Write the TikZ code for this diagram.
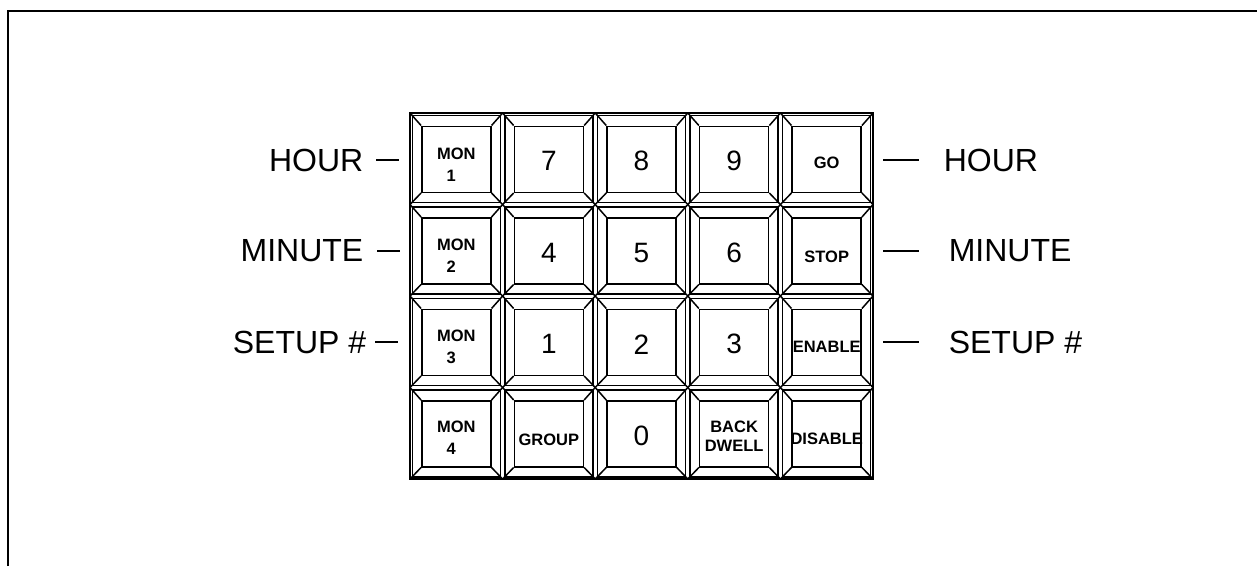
\documentclass[tikz,border=0pt]{standalone}
\usepackage{fontspec}
\setmainfont{Liberation Sans}
\begin{document}
\begin{tikzpicture}[x=1pt,y=-1pt,line width=1.5pt,
  keyface/.style={draw,minimum width=69pt,minimum height=66pt,inner sep=0pt},
  keyshell/.style={draw,minimum width=88pt,minimum height=87pt,inner sep=0pt},
  sm/.style={font=\fontsize{16.5}{18}\selectfont\bfseries,align=center,inner sep=0pt},
  dig/.style={font=\fontsize{28}{30}\selectfont,inner sep=0pt},
  lab/.style={font=\fontsize{32}{34}\selectfont,inner sep=0pt}]
\useasboundingbox (0,0) rectangle (1257,566);
\draw[line width=2.6pt] (8,566) -- (8,11) -- (1257,11);
% keypad outer border
\node[draw,minimum width=463pt,minimum height=366pt,inner sep=0pt] (pad) at (641.5,296) {};
% keys
\foreach \r in {0,...,3} {
  \foreach \c in {0,...,4} {
    \pgfmathsetmacro\xa{410+\c*92.6}
    \pgfmathsetmacro\ya{113+\r*91.5}
    \pgfmathsetmacro\xm{\xa+46.3}
    \pgfmathsetmacro\ym{\ya+45.75}
    \coordinate (nw\r\c) at (\xa,\ya);
    \coordinate (ne\r\c) at ({\xa+92.6},\ya);
    \coordinate (sw\r\c) at (\xa,{\ya+91.5});
    \coordinate (se\r\c) at ({\xa+92.6},{\ya+91.5});
    \node[keyshell] (shell\r\c) at (\xm,\ym) {};
    \node[keyface] (key\r\c) at (\xm,{\ym+0.5}) {};
    \draw (nw\r\c) -- (key\r\c.north west);
    \draw (ne\r\c) -- (key\r\c.north east);
    \draw (sw\r\c) -- (key\r\c.south west);
    \draw (se\r\c) -- (key\r\c.south east);
  }
}
% key legends
\node[sm] (t00) at ([yshift=-5pt]key00) {MON\\[4pt]1\kern10pt};
\node[dig] (t01) at ([yshift=-2pt]key01) {7};
\node[dig] (t02) at ([yshift=-2pt]key02) {8};
\node[dig] (t03) at ([yshift=-2pt]key03) {9};
\node[sm] (t04) at ([yshift=-4pt]key04) {GO};
\node[sm] (t10) at ([yshift=-5pt]key10) {MON\\[4pt]2\kern10pt};
\node[dig] (t11) at ([yshift=-2pt]key11) {4};
\node[dig] (t12) at ([yshift=-2pt]key12) {5};
\node[dig] (t13) at ([yshift=-2pt]key13) {6};
\node[sm] (t14) at ([yshift=-6pt]key14) {STOP};
\node[sm] (t20) at ([yshift=-5pt]key20) {MON\\[4pt]3\kern10pt};
\node[dig] (t21) at ([yshift=-2pt]key21) {1};
\node[dig] (t22) at ([yshift=-2pt]key22) {2};
\node[dig] (t23) at ([yshift=-2pt]key23) {3};
\node[sm] (t24) at ([yshift=-5pt]key24) {ENABLE};
\node[sm] (t30) at ([yshift=-4pt]key30) {MON\\[4pt]4\kern10pt};
\node[sm] (t31) at ([yshift=-6pt]key31) {GROUP};
\node[dig] (t32) at ([yshift=-2pt]key32) {0};
\node[sm] (t33) at ([yshift=-2pt]key33) {BACK\\[1pt]DWELL};
\node[sm] (t34) at ([yshift=-5pt]key34) {DISABLE};
% left labels
\node[lab,anchor=east] (lh) at (364,160) {HOUR};
\node[lab,anchor=east] (lm) at (364,251) {MINUTE};
\node[lab,anchor=east] (ls) at (367,342) {SETUP \#};
\coordinate (lhd) at (399,160);
\coordinate (lmd) at (400,251);
\coordinate (lsd) at (398,342);
\draw ([xshift=12pt]lh.east) -- (lhd);
\draw ([xshift=13pt]lm.east) -- (lmd);
\draw ([xshift=8pt]ls.east) -- (lsd);
% right labels
\node[lab,anchor=west] (rh) at (943,160) {HOUR};
\node[lab,anchor=west] (rm) at (948,251) {MINUTE};
\node[lab,anchor=west] (rs) at (948,342) {SETUP \#};
\coordinate (rhd) at (883,160);
\coordinate (rmd) at (883,251);
\coordinate (rsd) at (883,342);
\draw (rhd) -- ([xshift=-24pt]rh.west);
\draw (rmd) -- ([xshift=-29pt]rm.west);
\draw (rsd) -- ([xshift=-29pt]rs.west);
\end{tikzpicture}
\end{document}
